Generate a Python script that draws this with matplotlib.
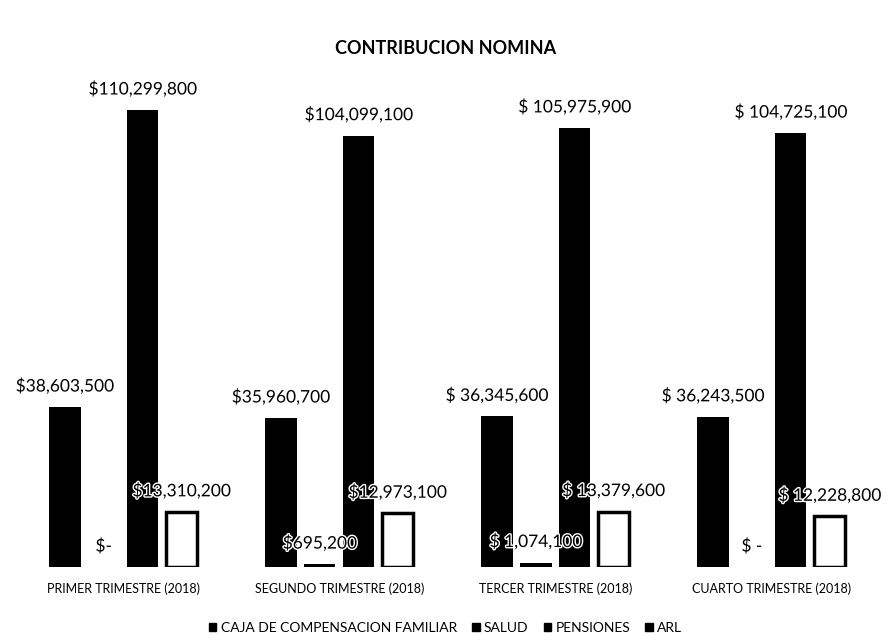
import matplotlib

matplotlib.use("Agg")

import matplotlib.pyplot as plt
import matplotlib.patheffects as pe
import numpy as np
from matplotlib.patches import Patch

quarters = [
    "PRIMER TRIMESTRE (2018)",
    "SEGUNDO TRIMESTRE (2018)",
    "TERCER TRIMESTRE (2018)",
    "CUARTO TRIMESTRE (2018)",
]
series = ["CAJA DE COMPENSACION FAMILIAR", "SALUD", "PENSIONES", "ARL"]

caja = [38603500, 35960700, 36345600, 36243500]
salud = [0, 695200, 1074100, 0]
pensiones = [110299800, 104099100, 105975900, 104725100]
arl = [13310200, 12973100, 13379600, 12228800]

caja_labels = ["$38,603,500", "$35,960,700", "$ 36,345,600", "$ 36,243,500"]
salud_labels = ["$-", "$695,200", "$ 1,074,100", "$ -"]
pensiones_labels = ["$110,299,800", "$104,099,100", "$ 105,975,900", "$ 104,725,100"]
arl_labels = ["$13,310,200", "$12,973,100", "$ 13,379,600", "$ 12,228,800"]

plt.rcParams["font.family"] = ["Lato", "DejaVu Sans"]

fig = plt.figure(figsize=(8.91, 6.44), dpi=100)
ax = fig.add_axes([0.017, 0.1196, 0.970, 0.772])

x = np.arange(len(quarters))
width = 0.145
offsets = [-0.27, -0.09, 0.09, 0.27]
values = [caja, salud, pensiones, arl]
labels = [caja_labels, salud_labels, pensiones_labels, arl_labels]

for i, (vals, labs) in enumerate(zip(values, labels)):
    pos = x + offsets[i]
    if series[i] == "ARL":
        ax.bar(pos, vals, width, facecolor="white", edgecolor="black", linewidth=2.5, zorder=2)
    else:
        ax.bar(pos, vals, width, color="black", zorder=2)
    for px, v, t in zip(pos, vals, labs):
        ax.annotate(t, (px, v), xytext=(0, 9), textcoords="offset points",
                    ha="center", va="bottom", fontsize=12.5, color="black", zorder=5,
                    path_effects=[pe.withStroke(linewidth=2, foreground="white")])

ax.set_xlim(-0.5, 3.5)
ax.set_ylim(0, 120000000)
ax.set_xticks(x)
ax.set_xticklabels(quarters, fontsize=9)
ax.tick_params(axis="x", length=0, pad=11)
ax.set_yticks([])
for s in ax.spines.values():
    s.set_visible(False)

fig.text(0.5, 0.925, "CONTRIBUCION NOMINA", ha="center", va="center",
         fontsize=13, fontweight="bold")

handles = [Patch(facecolor="black", edgecolor="black") for _ in series]
fig.legend(handles, series, loc="center", bbox_to_anchor=(0.5, 0.025), ncol=4,
           frameon=False, fontsize=10, handlelength=0.55, handleheight=0.55,
           handletextpad=0.3, columnspacing=1.1)

fig.savefig("out.png", dpi=100)
